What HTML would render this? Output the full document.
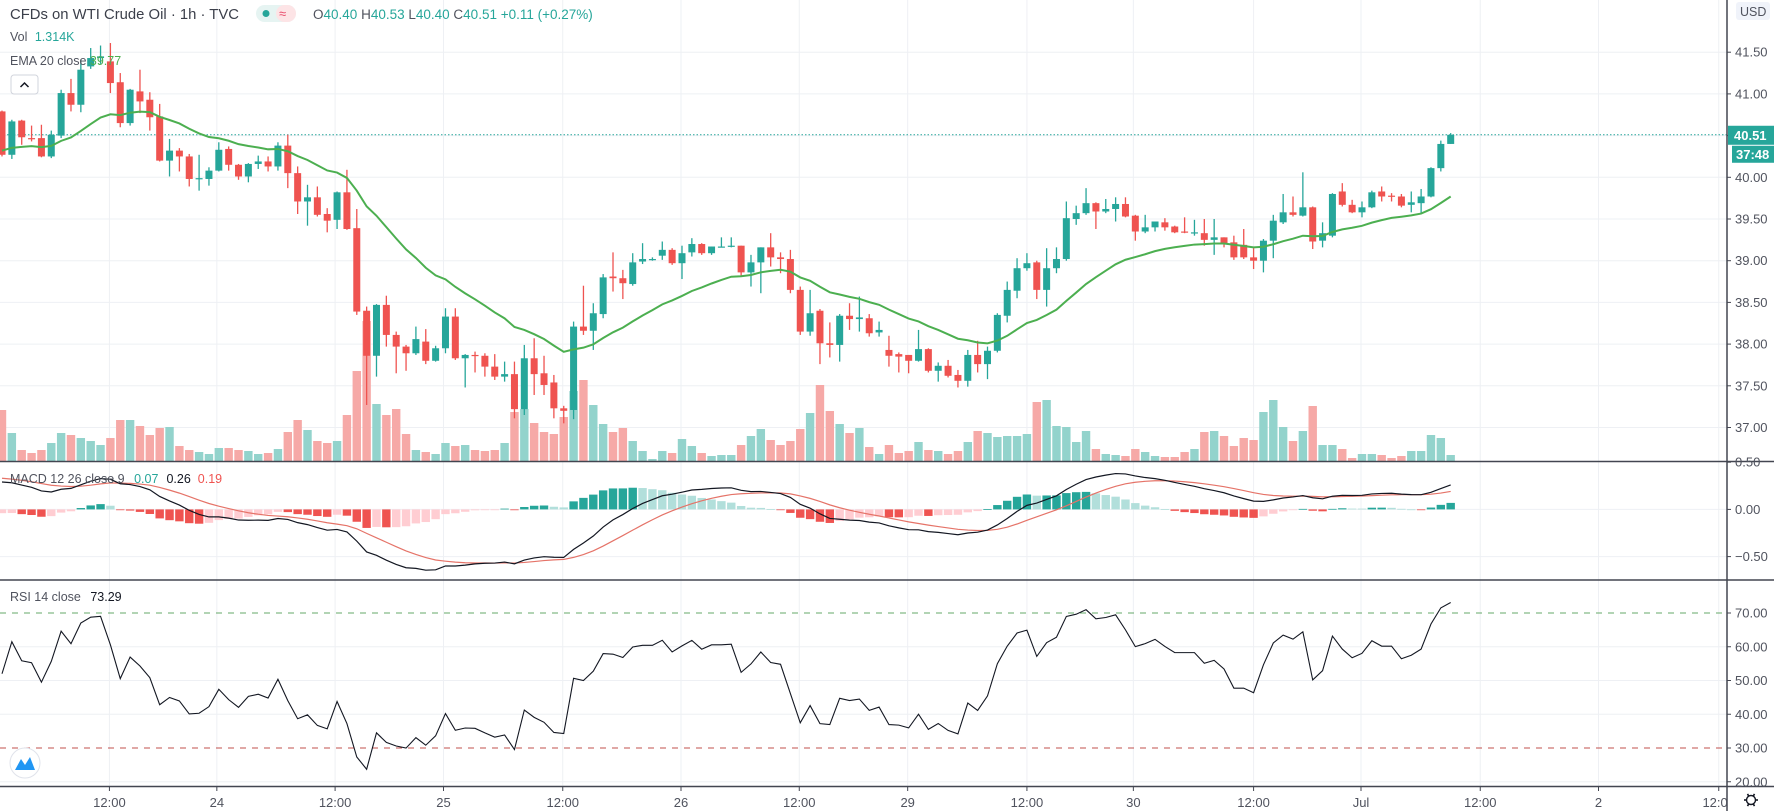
<!DOCTYPE html>
<html><head><meta charset="utf-8"><title>CFDs on WTI Crude Oil 1h</title>
<style>
html,body{margin:0;padding:0;background:#fff;}
svg{display:block;font-family:"Liberation Sans",sans-serif;}
</style></head>
<body>
<svg id="chart" width="1774" height="811" viewBox="0 0 1774 811">
  <defs>
    <clipPath id="plotClip"><rect x="0" y="0" width="1727" height="811"/></clipPath>
    <clipPath id="mainClip"><rect x="0" y="0" width="1727" height="461"/></clipPath>
    <clipPath id="macdClip"><rect x="0" y="462" width="1727" height="117"/></clipPath>
    <clipPath id="rsiClip"><rect x="0" y="581" width="1727" height="205"/></clipPath>
  </defs>
  <rect x="0" y="0" width="1774" height="811" fill="#ffffff"/>
  <g id="grid"></g>
  <g id="volume" clip-path="url(#mainClip)"></g>
  <g id="candles" clip-path="url(#mainClip)"></g>
  <g id="ema" clip-path="url(#mainClip)"></g>
  <g id="macd" clip-path="url(#macdClip)"></g>
  <g id="rsi" clip-path="url(#rsiClip)"></g>
  <g id="axes"></g>

  <!-- header legend -->
  <g>
    <text x="10" y="19" font-size="15" fill="#3b3f4a" textLength="229" lengthAdjust="spacingAndGlyphs">CFDs on WTI Crude Oil · 1h · TVC</text>
    <rect x="256" y="5" width="40" height="17" rx="8.5" fill="#e6f4f2"/>
    <rect x="276" y="5" width="20" height="17" rx="8.5" fill="#fde4e6"/>
    <circle cx="266" cy="13.5" r="3.5" fill="#26a69a"/>
    <text x="279" y="18" font-size="13" fill="#e84a6a">≈</text>
    <text x="313" y="19" font-size="13.5"><tspan fill="#50535e">O</tspan><tspan fill="#26a69a">40.40 </tspan><tspan fill="#50535e">H</tspan><tspan fill="#26a69a">40.53 </tspan><tspan fill="#50535e">L</tspan><tspan fill="#26a69a">40.40 </tspan><tspan fill="#50535e">C</tspan><tspan fill="#26a69a">40.51 +0.11 (+0.27%)</tspan></text>
    <text x="10" y="41" font-size="12.5"><tspan fill="#50535e">Vol </tspan><tspan fill="#26a69a" dx="4">1.314K</tspan></text>
    <text x="10" y="65" font-size="12.5"><tspan fill="#50535e">EMA 20 close </tspan><tspan fill="#4caf50">39.77</tspan></text>
    <rect x="11" y="75" width="27" height="19" rx="3" fill="#ffffff" stroke="#d1d4dc"/>
    <path d="M20.5 87 L24.5 83 L28.5 87" fill="none" stroke="#131722" stroke-width="1.5"/>
    <text x="10" y="483" font-size="12.5"><tspan fill="#50535e">MACD 12 26 close 9 </tspan><tspan fill="#26a69a" dx="6">0.07</tspan><tspan fill="#131722" dx="8">0.26</tspan><tspan fill="#ef5350" dx="7">0.19</tspan></text>
    <text x="10" y="601" font-size="12.5"><tspan fill="#50535e">RSI 14 close </tspan><tspan fill="#131722" dx="6">73.29</tspan></text>
  </g>
  <g>
    <circle cx="25" cy="763" r="15" fill="#ffffff" stroke="#e0e3eb"/>
    <path d="M15 770 L21 759 L25 765 L30 757 L35 770 Z" fill="#2196f3"/>
  </g>
</svg>
<script>
// ---- data ----
const opens = [40.79,40.27,40.68,40.47,40.47,40.25,40.50,41.01,40.87,41.33,41.43,41.39,41.14,40.65,41.03,40.93,40.73,40.20,40.32,40.25,39.98,39.98,40.08,40.34,40.15,40.01,40.16,40.19,40.13,40.38,40.05,39.71,39.76,39.56,39.49,39.82,39.39,38.40,37.86,38.47,38.11,37.97,37.89,38.03,37.80,37.95,38.33,37.83,37.87,37.86,37.73,37.61,37.64,37.22,37.83,37.65,37.54,37.23,37.21,38.21,38.16,38.36,38.81,38.79,38.72,38.99,39.02,39.06,39.13,38.97,39.10,39.20,39.09,39.17,39.17,39.18,38.86,38.98,39.16,39.04,39.02,38.65,38.15,38.40,38.01,37.99,38.34,38.30,38.31,38.14,37.93,37.88,37.87,37.80,37.94,37.68,37.74,37.63,37.56,37.87,37.76,37.92,38.34,38.64,38.91,38.98,38.65,38.91,39.02,39.50,39.57,39.69,39.59,39.62,39.68,39.54,39.35,39.40,39.46,39.41,39.35,39.34,39.33,39.25,39.28,39.22,39.19,39.04,39.00,39.24,39.46,39.58,39.54,39.64,39.24,39.30,39.83,39.67,39.58,39.64,39.83,39.78,39.77,39.67,39.69,39.77,40.11,40.40];
const highs = [40.80,40.69,40.69,40.62,40.63,40.56,41.05,41.18,41.41,41.55,41.58,41.61,41.25,41.06,41.29,41.02,40.88,40.46,40.35,40.28,40.27,40.12,40.42,40.37,40.16,40.17,40.26,40.25,40.42,40.51,40.13,39.91,39.89,39.63,39.83,40.09,39.62,38.45,38.48,38.58,38.15,37.99,38.21,38.18,37.98,38.43,38.43,37.88,37.91,37.89,37.88,37.79,37.79,37.99,38.07,37.86,37.63,37.26,38.27,38.70,38.49,38.84,39.10,38.89,39.09,39.21,39.04,39.23,39.15,39.18,39.27,39.21,39.17,39.28,39.28,39.18,39.07,39.16,39.33,39.10,39.13,38.69,38.65,38.42,38.26,38.36,38.49,38.57,38.36,38.27,38.10,37.90,37.87,38.17,37.95,37.78,37.81,37.69,37.93,38.04,37.97,38.37,38.75,39.03,39.09,39.00,39.15,39.16,39.71,39.66,39.87,39.70,39.74,39.76,39.76,39.55,39.55,39.47,39.51,39.42,39.52,39.49,39.50,39.50,39.28,39.30,39.38,39.15,39.26,39.55,39.80,39.77,40.06,39.65,39.46,39.81,39.93,39.73,39.71,39.84,39.89,39.81,39.80,39.83,39.86,40.12,40.44,40.53];
const lows = [40.25,40.22,40.39,40.43,40.24,40.23,40.47,40.79,40.78,41.30,41.36,41.01,40.60,40.62,40.77,40.56,40.19,40.01,40.07,39.89,39.84,39.90,40.07,40.08,39.97,39.94,40.10,40.07,40.08,39.87,39.56,39.42,39.53,39.34,39.38,39.37,38.35,37.27,37.61,37.97,37.65,37.68,37.87,37.76,37.79,37.89,37.81,37.48,37.66,37.61,37.57,37.55,37.11,37.15,37.39,37.39,37.11,37.05,37.10,38.11,37.93,38.31,38.63,38.54,38.70,38.96,39.00,39.01,38.95,38.78,39.05,39.07,39.07,39.16,39.16,38.81,38.69,38.61,38.93,38.85,38.61,38.11,38.10,37.76,37.84,37.79,38.17,38.15,38.09,38.09,37.73,37.66,37.65,37.79,37.66,37.55,37.60,37.48,37.49,37.66,37.58,37.90,38.26,38.55,38.88,38.54,38.45,38.85,39.00,39.43,39.55,39.38,39.57,39.47,39.52,39.24,39.33,39.35,39.36,39.33,39.33,39.30,39.18,39.07,39.16,39.01,39.02,38.90,38.86,39.03,39.44,39.53,39.53,39.14,39.16,39.28,39.65,39.57,39.52,39.63,39.71,39.71,39.64,39.58,39.57,39.76,40.07,40.40];
const closes = [40.27,40.67,40.48,40.46,40.25,40.51,41.01,40.87,41.29,41.43,41.45,41.13,40.65,41.05,40.91,40.72,40.20,40.32,40.25,39.98,39.99,40.08,40.33,40.15,40.01,40.16,40.19,40.13,40.38,40.05,39.71,39.76,39.55,39.48,39.82,39.38,38.39,37.86,38.47,38.11,37.97,37.89,38.06,37.80,37.95,38.33,37.83,37.87,37.86,37.73,37.61,37.64,37.22,37.83,37.64,37.51,37.23,37.20,38.21,38.16,38.37,38.80,38.79,38.73,38.98,39.02,39.02,39.13,38.97,39.09,39.20,39.09,39.17,39.17,39.18,38.86,38.98,39.16,39.04,39.02,38.65,38.15,38.37,38.01,37.99,38.34,38.30,38.32,38.13,38.17,37.86,37.85,37.80,37.94,37.68,37.74,37.62,37.56,37.87,37.76,37.92,38.35,38.65,38.91,38.97,38.65,38.91,39.02,39.51,39.57,39.69,39.59,39.62,39.68,39.53,39.35,39.40,39.47,39.40,39.34,39.34,39.34,39.25,39.28,39.21,39.04,39.04,39.00,39.24,39.48,39.58,39.55,39.64,39.23,39.33,39.80,39.67,39.58,39.64,39.82,39.77,39.77,39.66,39.70,39.77,40.11,40.40,40.51];
const volumes = [51,28,11,8,11,18,28,26,23,20,16,23,41,41,35,26,33,34,15,11,9,7,13,13,11,10,7,8,12,29,41,31,20,18,20,46,90,140,57,46,52,27,11,9,7,18,15,16,11,10,11,18,49,52,38,29,27,44,70,81,56,37,29,33,20,10,2,10,8,22,15,8,5,6,6,16,25,32,21,16,20,32,48,76,50,37,28,33,14,7,16,8,10,19,11,10,7,10,19,30,28,24,25,25,27,59,61,35,34,19,30,12,7,6,5,12,9,5,4,4,9,12,29,30,25,15,23,21,49,61,34,20,30,55,16,16,12,3,7,7,6,3,5,10,10,26,23,6];
const priceTicks = [41.5,41.0,40.5,40.0,39.5,39.0,38.5,38.0,37.5,37.0];
const priceTickLabels = ["41.50","41.00","","40.00","39.50","39.00","38.50","38.00","37.50","37.00"];
const macdTicks = [0.5,0,-0.5];
const macdTickLabels = ["0.50","0.00","\u22120.50"];
const rsiTicks = [70,60,50,40,30,20];
const rsiTickLabels = ["70.00","60.00","50.00","40.00","30.00","20.00"];
const timeLabels = ["12:00","24","12:00","25","12:00","26","12:00","29","12:00","30","12:00","Jul","12:00","2","12:00"];
const timeLabelBars = [10.9,21.8,33.8,44.8,56.9,68.9,80.9,91.9,104,114.8,127,137.9,150,162,174.2];
const lastPrice = 40.51;

// ---- scales ----
const AXIS_X = 1727;
const xOf = i => 2 + i * 9.855;
const yPrice = p => 177.3 + (40 - p) * 83.4;
const yVol = v => 461 - v;
const yMacd = v => 509.4 - v * 94.4;
const yRsi = v => 613 + (70 - v) * 3.375;

const NS = "http://www.w3.org/2000/svg";
function mk(tag, attrs, parent) {
  const el = document.createElementNS(NS, tag);
  for (const k in attrs) el.setAttribute(k, attrs[k]);
  parent.appendChild(el);
  return el;
}
const G = id => document.getElementById(id);
const UP = "#26a69a", DN = "#ef5350";

// ---- grid ----
const grid = G("grid");
priceTicks.forEach(t => {
  const l = mk("line", {x1:0, x2:AXIS_X, y1:yPrice(t), y2:yPrice(t), stroke:"#eef0f4", "stroke-width":1}, grid);
  
  
});
[0,-0.5].forEach(t => {
  const l = mk("line", {x1:0, x2:AXIS_X, y1:yMacd(t), y2:yMacd(t), stroke:"#eef0f4"}, grid);
  
  
});
[60,50,40,20].forEach(t => {
  const l = mk("line", {x1:0, x2:AXIS_X, y1:yRsi(t), y2:yRsi(t), stroke:"#eef0f4"}, grid);
  
  
});
timeLabelBars.forEach(b => {
  const x = xOf(b);
  if (x < AXIS_X) {
    const l = mk("line", {x1:x, x2:x, y1:0, y2:786, stroke:"#eef0f4"}, grid);
    
    
  }
});

// ---- volume ----
const vg = G("volume");
volumes.forEach((v, i) => {
  const up = closes[i] >= opens[i];
  const r = mk("rect", {x:xOf(i)-4.2, y:yVol(v), width:8.4, height:461-yVol(v), fill: up ? "#93d3cc" : "#f6a9a7"}, vg);
  
  
});

// ---- last price line ----
const lp = mk("line", {x1:0, x2:AXIS_X, y1:yPrice(lastPrice), y2:yPrice(lastPrice), stroke:"#26a69a", "stroke-width":1, "stroke-dasharray":"1.5 2"}, G("candles"));



// ---- candles ----
const cg = G("candles");
closes.forEach((c, i) => {
  const o = opens[i], up = c >= o, col = up ? UP : DN, x = xOf(i);
  const g = mk("g", {}, cg);
  
  
  mk("line", {x1:x, x2:x, y1:yPrice(highs[i]), y2:yPrice(lows[i]), stroke:col, "stroke-width":1.3}, g);
  const top = yPrice(Math.max(o,c)), bot = yPrice(Math.min(o,c));
  mk("rect", {x:x-3.5, y:top, width:7, height:Math.max(1.2, bot-top), fill:col}, g);
});

// ---- EMA 20 ----
const emaVals = [];
let ema = 40.32;
closes.forEach((c, i) => { if (i > 0) ema = ema + (c - ema) * 2 / 21; emaVals.push(ema); });
const ep = mk("polyline", {points: emaVals.map((v,i)=>xOf(i)+","+yPrice(v)).join(" "), fill:"none", stroke:"#4caf50", "stroke-width":2}, G("ema"));



// ---- MACD ----
let e12 = 40.50, e26 = 40.21, sig = 0.33;
const macdLine = [], sigLine = [], hist = [];
closes.forEach((c, i) => {
  if (i > 0) { e12 += (c - e12) * 2 / 13; e26 += (c - e26) * 2 / 27; }
  const m = e12 - e26;
  if (i > 0) sig += (m - sig) * 2 / 10;
  macdLine.push(m); sigLine.push(sig); hist.push(m - sig);
});
const mg = G("macd");
hist.forEach((h, i) => {
  const prev = i > 0 ? hist[i-1] : h;
  let col;
  if (h >= 0) col = h >= prev ? "#26a69a" : "#b2dfdb";
  else col = h < prev ? "#ef5350" : "#ffcdd2";
  const y0 = yMacd(0), y1 = yMacd(h);
  const r = mk("rect", {x:xOf(i)-4.2, y:Math.min(y0,y1), width:8.4, height:Math.max(0.8, Math.abs(y1-y0)), fill:col}, mg);
  
  
});
const sl = mk("polyline", {points: sigLine.map((v,i)=>xOf(i)+","+yMacd(v)).join(" "), fill:"none", stroke:"#e57368", "stroke-width":1.2}, mg);


const ml = mk("polyline", {points: macdLine.map((v,i)=>xOf(i)+","+yMacd(v)).join(" "), fill:"none", stroke:"#131722", "stroke-width":1.2}, mg);



// ---- RSI ----
let ag = 0.065, al = 0.06;
const rsiVals = [];
closes.forEach((c, i) => {
  if (i > 0) {
    const d = c - closes[i-1];
    ag = (ag * 13 + Math.max(d, 0)) / 14;
    al = (al * 13 + Math.max(-d, 0)) / 14;
  }
  rsiVals.push(100 - 100 / (1 + ag / al));
});
const rg = G("rsi");
const l70 = mk("line", {x1:0, x2:AXIS_X, y1:yRsi(70), y2:yRsi(70), stroke:"#66a86a", "stroke-dasharray":"6 6"}, rg);


const l30 = mk("line", {x1:0, x2:AXIS_X, y1:yRsi(30), y2:yRsi(30), stroke:"#c0504d", "stroke-dasharray":"6 6"}, rg);


const rl = mk("polyline", {points: rsiVals.map((v,i)=>xOf(i)+","+yRsi(v)).join(" "), fill:"none", stroke:"#131722", "stroke-width":1.1}, rg);



// ---- axes ----
const ax = G("axes");
const sepStyle = {stroke:"#434651", "stroke-width":1.5};
[461.5, 580, 786.5].forEach(y => {
  const s = mk("line", Object.assign({x1:0, x2:1774, y1:y, y2:y}, sepStyle), ax);
  
  
});
const av = mk("line", Object.assign({x1:AXIS_X, x2:AXIS_X, y1:0, y2:811}, sepStyle), ax);



function tick(y, label, name) {
  mk("line", {x1:AXIS_X, x2:AXIS_X+4, y1:y, y2:y, stroke:"#434651"}, ax);
  if (label) {
    const t = mk("text", {x:1735, y:y+4.5, "font-size":13, fill:"#50535e"}, ax);
    t.textContent = label;
    
    
  }
}
priceTicks.forEach((t, k) => tick(yPrice(t), priceTickLabels[k], 'price-tick-label'));
macdTicks.forEach((t, k) => tick(yMacd(t), macdTickLabels[k], 'macd-tick-label'));
rsiTicks.forEach((t, k) => tick(yRsi(t), rsiTickLabels[k], 'rsi-tick-label'));

// cover overflowing ticks into other panes
mk("rect", {x:AXIS_X+1, y:462.5, width:46, height:0, fill:"#fff"}, ax);

// time labels
const tg = mk("g", {"clip-path":"url(#plotClip)"}, ax);
timeLabels.forEach((lab, k) => {
  const x = xOf(timeLabelBars[k]);
  mk("line", {x1:x, x2:x, y1:786.5, y2:791, stroke:"#434651"}, tg);
  const t = mk("text", {x:x, y:807, "font-size":13, fill:"#50535e", "text-anchor":"middle"}, tg);
  t.textContent = lab;
  
  
});

// USD badge
const ub = mk("rect", {x:1736, y:2, width:34, height:18, rx:3, fill:"#f0f3fa"}, ax);


const ut = mk("text", {x:1740, y:16, "font-size":12.5, fill:"#50535e"}, ax);
ut.textContent = "USD";



// last price labels
const ly = yPrice(lastPrice);
const pb = mk("rect", {x:AXIS_X+1, y:ly-9, width:47, height:19, fill:"#26a69a"}, ax);


const pt = mk("text", {x:1734, y:ly+5, "font-size":13, "font-weight":"bold", fill:"#fff"}, ax);
pt.textContent = lastPrice.toFixed(2);


const cb = mk("rect", {x:AXIS_X+5, y:ly+11, width:43, height:17, fill:"#26a69a"}, ax);


const ct = mk("text", {x:1736, y:ly+24, "font-size":13, "font-weight":"bold", fill:"#fff"}, ax);
ct.textContent = "37:48";



// settings gear
const gear = mk("g", {transform:"translate(1751,800)"}, ax);


mk("circle", {cx:0, cy:0, r:4.5, fill:"none", stroke:"#131722", "stroke-width":1.4}, gear);
for (let a = 0; a < 6; a++) {
  const r = a * Math.PI / 3;
  mk("line", {x1:Math.cos(r)*4.5, y1:Math.sin(r)*4.5, x2:Math.cos(r)*7, y2:Math.sin(r)*7, stroke:"#131722", "stroke-width":1.6}, gear);
}
</script>
</body></html>
